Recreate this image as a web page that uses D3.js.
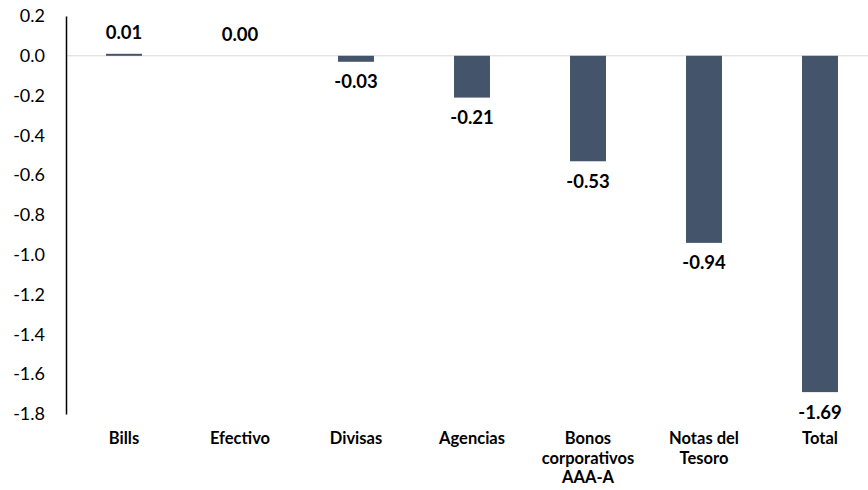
<!DOCTYPE html>
<html>
<head>
<meta charset="utf-8">
<script src="https://cdn.jsdelivr.net/npm/d3@7"></script>
<style>
  body { margin: 0; background: #fff; }
  svg text { font-family: "Lato", "Open Sans", sans-serif; fill: #000; }
</style>
</head>
<body>
<div id="zone"></div>
<script>
(function() {
  "use strict";

  // données
  var categories = ["Bills", "Efectivo", "Divisas", "Agencias", "Bonos corporativos AAA-A", "Notas del Tesoro", "Total"];
  var labelLines = [["Bills"], ["Efectivo"], ["Divisas"], ["Agencias"], ["Bonos", "corporativos", "AAA-A"], ["Notas del", "Tesoro"], ["Total"]];
  var values = [0.01, 0.00, -0.03, -0.21, -0.53, -0.94, -1.69];
  var yTicks = [0.2, 0.0, -0.2, -0.4, -0.6, -0.8, -1.0, -1.2, -1.4, -1.6, -1.8];

  var width = 868, height = 490;

  // format avec un tiret simple au lieu du signe moins unicode
  function fmt(spec) {
    var f = d3.format(spec);
    return function(d) { return f(d).replace("\u2212", "-"); };
  }

  var svg = d3.select("#zone").append("svg")
    .attr("width", width)
    .attr("height", height);

  var x = d3.scaleBand()
    .domain(categories)
    .range([66, 878])
    .paddingInner(0.69)
    .paddingOuter(0.345);

  var y = d3.scaleLinear()
    .domain([0.2, -1.8])
    .range([16, 414]);

  // ligne du zéro
  svg.append("line")
    .attr("x1", 66).attr("x2", width)
    .attr("y1", y(0)).attr("y2", y(0))
    .attr("stroke", "#d9d9d9")
    .attr("stroke-width", 1);

  // axe vertical
  var yAxis = svg.append("g")
    .attr("transform", "translate(66,0)")
    .call(d3.axisLeft(y).tickValues(yTicks).tickSize(0).tickPadding(21).tickFormat(fmt(".1f")));
  yAxis.select(".domain").attr("stroke", "#000").attr("stroke-width", 1.5);
  yAxis.selectAll("text")
    .style("font-size", "18px")
    .style("font-family", "Lato, 'Open Sans', sans-serif")
    .attr("fill", "#000");

  // barres
  svg.selectAll(".bar")
    .data(values)
    .enter().append("rect")
    .attr("class", "bar")
    .attr("x", function(d, i) { return x(categories[i]); })
    .attr("width", x.bandwidth())
    .attr("y", function(d) { return y(Math.max(0, d)); })
    .attr("height", function(d) { return Math.abs(y(d) - y(0)); })
    .attr("fill", "#44546a");

  // étiquettes des valeurs
  svg.selectAll(".val")
    .data(values)
    .enter().append("text")
    .attr("class", "val")
    .attr("x", function(d, i) { return x(categories[i]) + x.bandwidth() / 2; })
    .attr("y", function(d) { return d >= 0 ? y(d) - 15 : y(d) + 9; })
    .attr("dy", function(d) { return d >= 0 ? "0" : "0.95em"; })
    .attr("text-anchor", "middle")
    .style("font-size", "18.5px")
    .style("font-weight", "bold")
    .text(function(d) { return fmt(".2f")(d); });

  // étiquettes des catégories
  var cat = svg.selectAll(".cat")
    .data(labelLines)
    .enter().append("text")
    .attr("class", "cat")
    .attr("text-anchor", "middle")
    .style("font-size", "16.5px")
    .style("font-weight", "bold")
    .attr("transform", function(d, i) { return "translate(" + (x(categories[i]) + x.bandwidth() / 2) + ",444)"; });

  cat.selectAll("tspan")
    .data(function(d) { return d; })
    .enter().append("tspan")
    .attr("x", 0)
    .attr("y", function(d, j) { return j * 19.5; })
    .text(function(d) { return d; });

})();
</script>
</body>
</html>
